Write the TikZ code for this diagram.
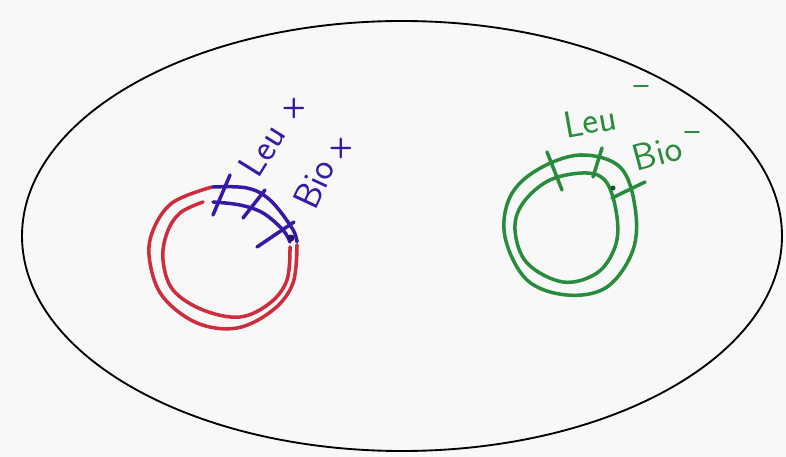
\documentclass[tikz,border=0pt]{standalone}
\usetikzlibrary{calc}
\definecolor{pen red}{RGB}{205,45,60}
\definecolor{pen blue}{RGB}{55,25,165}
\definecolor{pen green}{RGB}{40,140,60}
\definecolor{paper}{RGB}{248,248,248}
\begin{document}
\begin{tikzpicture}[x=0.03cm,y=-0.03cm,
  line cap=round, line join=round,
  outline/.style={draw=black, line width=1.6pt},
  redink/.style={draw=pen red, line width=3pt},
  blueink/.style={draw=pen blue, line width=3pt},
  greenink/.style={draw=pen green, line width=3pt},
  hand/.style={font=\sffamily\fontsize{32}{34}\selectfont, inner sep=0pt},
  handsup/.style={font=\sffamily\bfseries\fontsize{24}{26}\selectfont, inner sep=0pt}]
\useasboundingbox (0,0) rectangle (786,457);
\fill[paper] (0,0) rectangle (786,457);
% big ellipse
\draw[outline] (402,236) ellipse [x radius=380, y radius=215];
% red colony (two rings)
\draw[redink] plot[smooth, tension=0.6] coordinates {(212,187) (172,203) (152,233) (150,263) (163,297) (197,323) (237,328) (273,310) (293,283) (297,245)};
\draw[redink] plot[smooth, tension=0.6] coordinates {(203,202) (180,213) (167,233) (163,260) (173,290) (203,310) (240,317) (270,303) (287,280) (290,247)};
% blue segments
\draw[blueink] plot[smooth, tension=0.6] coordinates {(213,187) (247,188) (270,200) (292,228) (297,242)};
\draw[blueink] plot[smooth, tension=0.6] coordinates {(213,202) (240,205) (263,213) (283,230) (290,242)};
\draw[blueink] (230,175) -- (213,215);
\draw[blueink] (265,190) -- (243,218);
\draw[blueink] (294,222) -- (257,247);
\fill[pen blue!70!black] (291,238) circle [radius=3.5];
\node[hand, text=pen blue, rotate=58] (leup) at (262,150) {Leu};
\node[handsup, text=pen blue] (leupsup) at (294,108) {+};
\node[hand, text=pen blue, rotate=65] (biop) at (314,184) {Bio};
\node[handsup, text=pen blue] (biopsup) at (341,148) {+};
% green colony (two rings)
\draw[greenink] plot[smooth cycle, tension=0.6] coordinates {(580,155) (620,167) (635,207) (633,250) (607,287) (567,295) (527,280) (505,237) (510,197) (537,170)};
\draw[greenink] plot[smooth cycle, tension=0.6] coordinates {(587,173) (607,183) (617,217) (615,247) (597,273) (563,282) (527,263) (515,230) (523,203) (550,180)};
\draw[greenink] (547,152) -- (562,190);
\draw[greenink] (602,148) -- (593,177);
\draw[greenink] (645,182) -- (612,198);
\fill[pen green!60!black] (613,188) circle [radius=2.5];
\node[hand, text=pen green, rotate=10] (leum) at (590,121) {Leu};
\node[handsup, text=pen green] (leumsup) at (641,90) {\textendash};
\node[hand, text=pen green, rotate=15] (biom) at (657,153) {Bio};
\node[handsup, text=pen green] (biomsup) at (692,136) {\textendash};
\end{tikzpicture}
\end{document}
